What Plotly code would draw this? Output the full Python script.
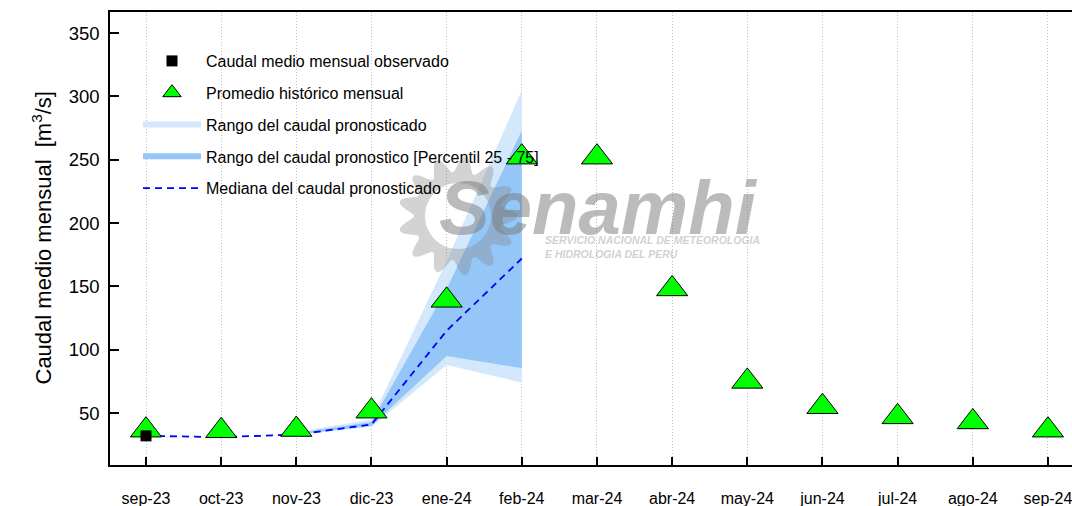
import math
import plotly.graph_objects as go

# Data
months = ['sep-23', 'oct-23', 'nov-23', 'dic-23', 'ene-24', 'feb-24', 'mar-24',
          'abr-24', 'may-24', 'jun-24', 'jul-24', 'ago-24', 'sep-24']
historico = [36.5, 36, 37, 51.5, 139, 252, 252, 148, 75, 55, 47, 43, 36.5]

obs_months = ['sep-23']
observado = [32]

fc_months = ['nov-23', 'dic-23', 'ene-24', 'feb-24']
rango_min = [32.5, 39, 88, 74]
rango_max = [35, 45, 170, 305]
p25 = [33, 40, 95, 85.5]
p75 = [34, 43, 148, 273]

med_months = ['sep-23', 'oct-23', 'nov-23', 'dic-23', 'ene-24', 'feb-24']
mediana = [32, 31, 33, 41, 115, 172]

idx = {m: i for i, m in enumerate(months)}
fx = [idx[m] for m in fc_months]

W, H = 1072, 506
ML, MT, MB = 110, 12, 41
PW, PH = W - ML, H - MT - MB


def paper(px, py):
    # page pixel -> paper coordinates
    return (px - ML) / PW, (H - MB - py) / PH


fig = go.Figure()

# forecast ranges as closed polygons
fig.add_trace(go.Scatter(x=fx + fx[::-1], y=rango_max + rango_min[::-1],
                         fill='toself', fillcolor='rgb(212,232,252)', mode='none',
                         name='Rango del caudal pronosticado', legendgroup='c', legendrank=3))
fig.add_trace(go.Scatter(x=fx + fx[::-1], y=p75 + p25[::-1],
                         fill='toself', fillcolor='rgb(148,198,248)', mode='none',
                         name='Rango del caudal pronostico [Percentil 25 - 75]',
                         legendgroup='d', legendrank=4))
fig.add_trace(go.Scatter(x=[idx[m] for m in med_months], y=mediana, mode='lines',
                         line={'color': 'blue', 'width': 1.8, 'dash': '7px,5px'},
                         name='Mediana del caudal pronosticado', legendgroup='e', legendrank=5))
fig.add_trace(go.Scatter(x=list(range(len(months))), y=historico, mode='markers',
                         marker={'symbol': 'triangle-up', 'size': 27, 'color': '#00ff00',
                                 'line': {'color': 'black', 'width': 1}},
                         name='Promedio histórico mensual', legendgroup='b', legendrank=2))
fig.add_trace(go.Scatter(x=[idx[m] for m in obs_months], y=observado, mode='markers',
                         marker={'symbol': 'square', 'size': 11, 'color': 'black'},
                         name='Caudal medio mensual observado', legendgroup='a', legendrank=1))

# watermark: sun logo (petal ring) + text
cx, cy = 458, 216
pts = []
for k in range(180):
    a = 2 * math.pi * k / 180
    r = 52 + 8 * math.cos(13 * a)
    pts.append(paper(cx + r * math.cos(a), cy + r * math.sin(a)))
path = 'M' + ' L'.join(f'{x:.4f},{y:.4f}' for x, y in pts) + ' Z'
hole = []
for k in range(60):
    a = 2 * math.pi * k / 60
    hole.append(paper(cx + 33 * math.cos(a), cy + 33 * math.sin(a)))
path += ' M' + ' L'.join(f'{x:.4f},{y:.4f}' for x, y in hole) + ' Z'
fig.add_shape(type='path', path=path, xref='paper', yref='paper', fillrule='evenodd',
              fillcolor='rgba(140,140,140,0.38)', line={'width': 0}, layer='above')

sx, sy = paper(598, 207)
fig.add_annotation(x=sx, y=sy, xref='paper', yref='paper', xanchor='center', yanchor='middle',
                   text='<b><i>Senamhi</i></b>', showarrow=False,
                   font={'size': 76, 'color': 'rgba(120,120,120,0.5)', 'family': 'Liberation Sans'})
tx, ty = paper(543, 232)
fig.add_annotation(x=tx, y=ty, xref='paper', yref='paper', xanchor='left', yanchor='top',
                   text='<b><i>SERVICIO NACIONAL DE METEOROLOGIA<br>E HIDROLOGIA DEL PERU</i></b>',
                   showarrow=False, align='left',
                   font={'size': 10.5, 'color': 'rgba(150,150,150,0.45)', 'family': 'Liberation Sans'})

# y axis title
fig.add_annotation(x=paper(25, 0)[0], y=0.5, xref='paper', yref='paper', textangle=-90,
                   text='Caudal medio mensual  [m<sup>3</sup>/s]', showarrow=False,
                   font={'size': 22})

lx, ly = paper(138, 44)
fig.update_layout(
    width=W, height=H,
    margin={'l': ML, 'r': 0, 't': MT, 'b': MB},
    plot_bgcolor='white', paper_bgcolor='white',
    font={'family': 'Liberation Sans, Arial', 'color': 'black'},
    showlegend=True,
    legend={'x': lx, 'y': ly, 'xanchor': 'left', 'yanchor': 'top',
            'bgcolor': 'rgba(0,0,0,0)', 'font': {'size': 16}, 'itemwidth': 58,
            'tracegroupgap': 8, 'traceorder': 'grouped'},
    xaxis={'range': [-0.479, 12.32], 'tickmode': 'array', 'automargin': False,
           'tickvals': list(range(len(months))), 'ticktext': months,
           'ticklabeloverflow': 'allow',
           'showgrid': True, 'gridcolor': 'rgb(190,190,190)', 'griddash': '1px,2px', 'gridwidth': 1,
           'zeroline': False, 'showline': True, 'linecolor': 'black', 'linewidth': 1.5,
           'mirror': True, 'ticks': 'inside', 'ticklen': 8, 'tickcolor': 'black',
           'tickwidth': 1.5, 'ticklabelstandoff': 18, 'tickfont': {'size': 16}},
    yaxis={'range': [9, 366.6], 'tickvals': [50, 100, 150, 200, 250, 300, 350], 'automargin': False,
           'showgrid': False, 'zeroline': False, 'showline': True, 'linecolor': 'black',
           'linewidth': 1.5, 'ticks': 'inside', 'ticklen': 9, 'tickcolor': 'black',
           'tickwidth': 1.5, 'ticklabelstandoff': 5, 'tickfont': {'size': 18.5}},
)

# drop the default body margin so the figure fills the 1072x506 window exactly
fig.write_html('out.html', config={'displayModeBar': False},
               post_script="document.body.style.margin='0';")
